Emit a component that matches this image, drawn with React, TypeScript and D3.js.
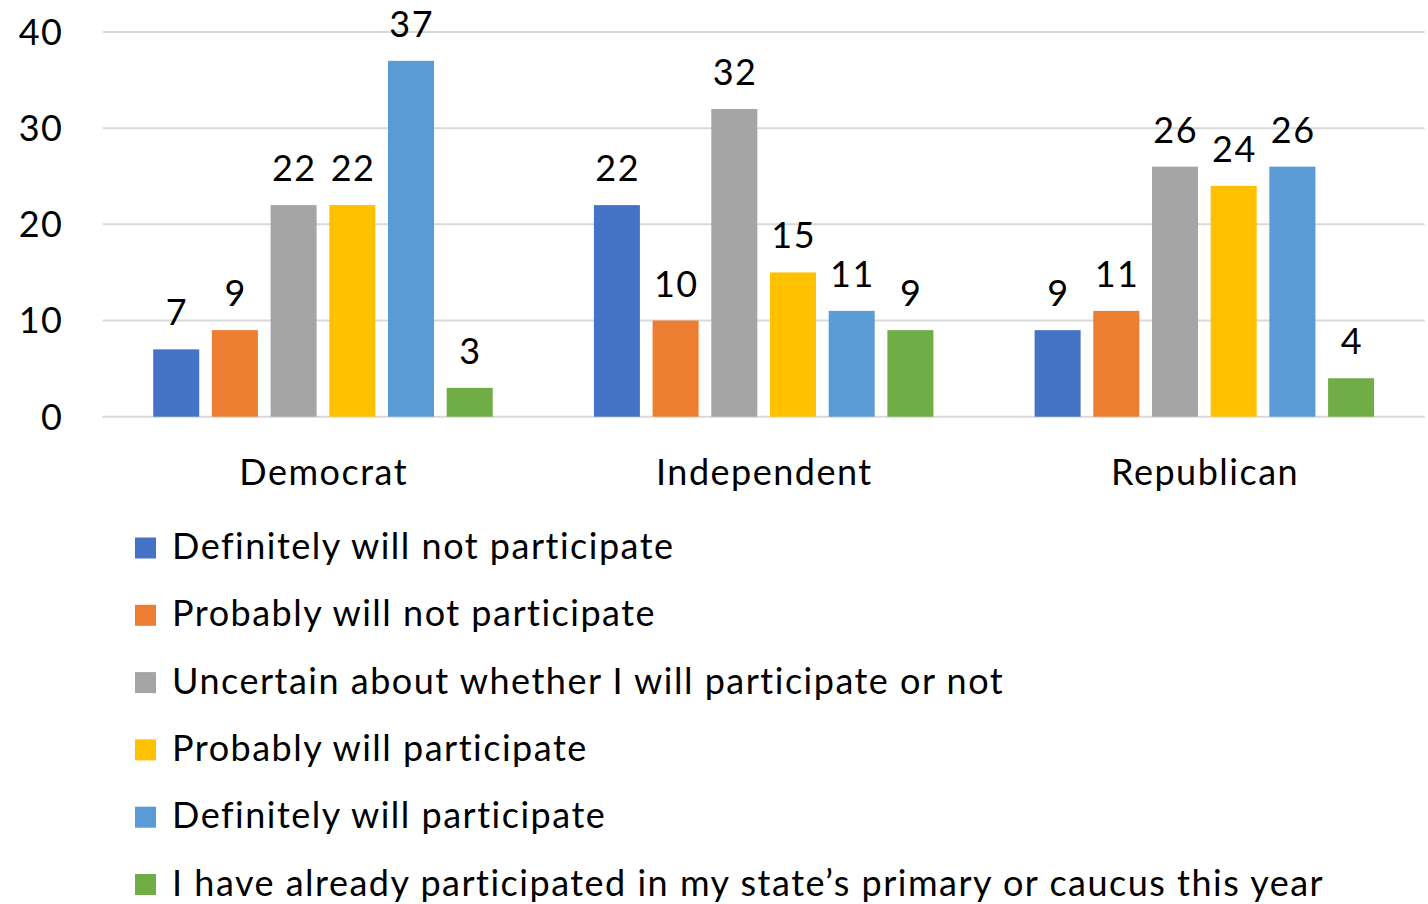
import { useMemo } from "react";
import * as d3 from "d3";

const parties = ["Democrat", "Independent", "Republican"];

const responses = [
  "Definitely will not participate",
  "Probably will not participate",
  "Uncertain about whether I will participate or not",
  "Probably will participate",
  "Definitely will participate",
  "I have already participated in my state\u2019s primary or caucus this year",
];

// one array per response, ordered like parties
const definitelyNot = [7, 22, 9];
const probablyNot = [9, 10, 11];
const uncertain = [22, 32, 26];
const probablyWill = [22, 15, 24];
const definitelyWill = [37, 11, 26];
const alreadyDone = [3, 9, 4];

const seriesValues = [
  definitelyNot,
  probablyNot,
  uncertain,
  probablyWill,
  definitelyWill,
  alreadyDone,
];

const yTicks = [0, 10, 20, 30, 40];

const COLORS = ["#4472C4", "#ED7D31", "#A5A5A5", "#FFC000", "#5B9BD5", "#70AD47"];

const FONT = "Lato, 'Open Sans', sans-serif";

export default function App() {
  const width = 1428;
  const height = 904;

  const x0 = useMemo(
    () => d3.scaleBand<string>().domain(parties).range([102.6, 1424.7]).padding(0),
    []
  );
  const x1 = useMemo(
    () =>
      d3
        .scaleBand<string>()
        .domain(responses)
        .range([0, x0.bandwidth()])
        .paddingInner(0.216)
        .paddingOuter(0.862),
    [x0]
  );
  const y = useMemo(() => d3.scaleLinear().domain([0, 40]).range([416.7, 32]), []);

  const legendY = d3.scalePoint<string>().domain(responses).range([548, 884.5]);

  return (
    <div style={{ position: "absolute", left: 0, top: 0 }}>
      <svg
        width={width}
        height={height}
        style={{ display: "block", letterSpacing: "1.5px" }}
        fontFamily={FONT}
      >
        <rect width={width} height={height} fill="#ffffff" />

        {/* grid */}
        <g>
          {yTicks.map((t) => (
            <line
              key={t}
              x1={102.6}
              x2={1424.7}
              y1={y(t)}
              y2={y(t)}
              stroke="#d9d9d9"
              strokeWidth={2}
            />
          ))}
        </g>

        {/* y tick labels */}
        <g fontSize={36} fill="#000" textAnchor="end">
          {yTicks.map((t) => (
            <text key={t} x={63.5} y={y(t)} dy="0.36em">
              {t}
            </text>
          ))}
        </g>

        {/* bars */}
        {parties.map((p, pi) => (
          <g key={p} transform={`translate(${x0(p)},0)`}>
            {responses.map((r, ri) => {
              const v = seriesValues[ri][pi];
              const bx = x1(r) ?? 0;
              return (
                <g key={r}>
                  <rect
                    x={bx}
                    y={y(v)}
                    width={x1.bandwidth()}
                    height={y(0) - y(v)}
                    fill={COLORS[ri]}
                  />
                  <text
                    x={bx + x1.bandwidth() / 2 + 0.75}
                    y={y(v) - 24}
                    textAnchor="middle"
                    fontSize={36}
                    fill="#000"
                  >
                    {v}
                  </text>
                </g>
              );
            })}
            <text
              x={x0.bandwidth() / 2 + 0.75}
              y={484.5}
              textAnchor="middle"
              fontSize={36}
              fill="#000"
            >
              {p}
            </text>
          </g>
        ))}

        {/* legend */}
        <g>
          {responses.map((r, i) => {
            const cy = legendY(r) ?? 0;
            return (
              <g key={r}>
                <rect x={135} y={cy - 10.5} width={21} height={21} fill={COLORS[i]} />
                <text x={172} y={cy + 11} fontSize={36} fill="#000">
                  {r}
                </text>
              </g>
            );
          })}
        </g>
      </svg>
    </div>
  );
}
